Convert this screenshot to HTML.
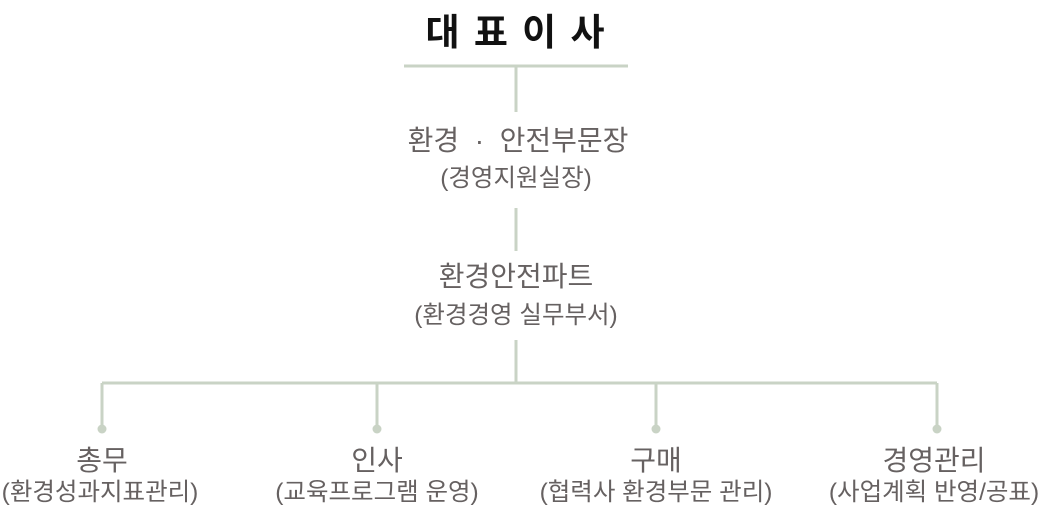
<!DOCTYPE html>
<html><head><meta charset="utf-8"><style>
body{margin:0;width:1041px;height:509px;background:#fff;position:relative;overflow:hidden;font-family:"Liberation Sans","Noto Sans CJK KR",sans-serif;}
.t{position:absolute;white-space:nowrap;transform:translateX(-50%);color:#666161;line-height:1;}
.h{font-size:28px;}
.s{font-size:24.5px;}
</style></head><body>
<svg width="1041" height="509" style="position:absolute;left:0;top:0">
<g stroke="#c9d3c5" stroke-width="3" fill="none">
<line x1="404" y1="66" x2="628" y2="66"/>
<line x1="516" y1="66" x2="516" y2="112"/>
<line x1="516" y1="208" x2="516" y2="251"/>
<line x1="516" y1="340" x2="516" y2="383"/>
<line x1="102" y1="383" x2="937" y2="383"/>
<line x1="102" y1="383" x2="102" y2="428"/>
<line x1="377" y1="383" x2="377" y2="428"/>
<line x1="656" y1="383" x2="656" y2="428"/>
<line x1="937" y1="383" x2="937" y2="428"/>
</g>
<g fill="#c9d3c5">
<circle cx="102" cy="429" r="4.5"/><circle cx="377" cy="429" r="4.5"/><circle cx="656" cy="429" r="4.5"/><circle cx="937" cy="429" r="4.5"/>
</g>
</svg>
<div class="t" style="left:516px;top:14px;font-size:37px;font-weight:bold;color:#111;letter-spacing:2px;">대 표 이 사</div>
<div class="t h" style="left:518px;top:127px;">환경 &nbsp;·&nbsp; 안전부문장</div>
<div class="t s" style="left:516px;top:167px;">(경영지원실장)</div>
<div class="t h" style="left:516px;top:263px;">환경안전파트</div>
<div class="t s" style="left:516px;top:304px;">(환경경영 실무부서)</div>
<div class="t h" style="left:102px;top:447px;">총무</div>
<div class="t s" style="left:100px;top:481px;">(환경성과지표관리)</div>
<div class="t h" style="left:377px;top:447px;">인사</div>
<div class="t s" style="left:377px;top:481px;">(교육프로그램 운영)</div>
<div class="t h" style="left:656px;top:447px;">구매</div>
<div class="t s" style="left:656px;top:481px;">(협력사 환경부문 관리)</div>
<div class="t h" style="left:934px;top:447px;">경영관리</div>
<div class="t s" style="left:934px;top:481px;">(사업계획 반영/공표)</div>
</body></html>
